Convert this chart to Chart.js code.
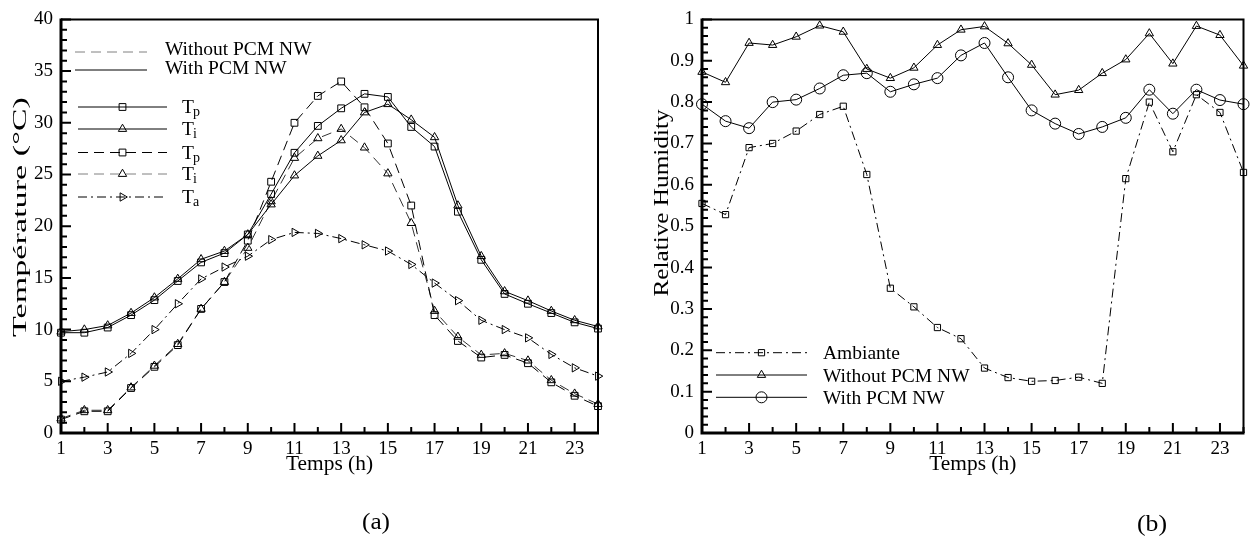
<!DOCTYPE html>
<html>
<head>
<meta charset="utf-8">
<title>Température / Relative Humidity</title>
<style>
  html, body { margin: 0; padding: 0; background: #fff; }
  #wrap { position: relative; width: 1250px; height: 538px; overflow: hidden; }
  canvas { position: absolute; top: 0; }
</style>
<script src="https://cdn.jsdelivr.net/npm/chart.js@4.4.0/dist/chart.umd.min.js"></script>
</head>
<body>
<div id="wrap">
  <canvas id="tempChart" width="620" height="538" style="left:0"></canvas>
  <canvas id="humChart" width="625" height="538" style="left:625px"></canvas>
</div>
<script>
// hours of the day (x axis)
const hours = [1, 2, 3, 4, 5, 6, 7, 8, 9, 10, 11, 12, 13, 14, 15, 16, 17, 18, 19, 20, 21, 22, 23, 24];

// (a) temperatures, °C
const withTp = [9.7, 9.7, 10.2, 11.4, 12.85, 14.7, 16.5, 17.4, 19.2, 23.1, 27.1, 29.7, 31.4, 32.8, 32.5, 29.6, 27.7, 21.4, 16.75, 13.45, 12.5, 11.6, 10.7, 10.1];
const withTi = [9.8, 10.0, 10.4, 11.6, 13.1, 14.9, 16.8, 17.6, 19.2, 22.1, 24.9, 26.8, 28.3, 31.0, 31.8, 30.3, 28.6, 22.0, 17.1, 13.7, 12.8, 11.8, 10.9, 10.3];
const noTp = [1.3, 2.1, 2.1, 4.35, 6.4, 8.5, 12.0, 14.6, 18.6, 24.3, 30.0, 32.6, 34.0, 31.5, 28.0, 22.0, 11.4, 8.9, 7.3, 7.55, 6.75, 4.9, 3.6, 2.6];
const noTi = [1.4, 2.2, 2.2, 4.4, 6.5, 8.6, 12.0, 14.6, 17.9, 22.4, 26.6, 28.5, 29.4, 27.6, 25.1, 20.3, 11.8, 9.3, 7.55, 7.7, 7.0, 5.1, 3.8, 2.8];
const ambT = [5.0, 5.4, 5.9, 7.7, 10.0, 12.5, 14.9, 16.05, 17.1, 18.7, 19.4, 19.3, 18.8, 18.2, 17.6, 16.3, 14.5, 12.8, 10.9, 10.0, 9.2, 7.6, 6.3, 5.5];

// (b) relative humidity
const rhAmbiante = [0.555, 0.528, 0.69, 0.70, 0.73, 0.77, 0.79, 0.625, 0.35, 0.305, 0.255, 0.228, 0.157, 0.134, 0.125, 0.127, 0.135, 0.12, 0.615, 0.80, 0.68, 0.818, 0.775, 0.63];
const rhWithout = [0.873, 0.848, 0.943, 0.938, 0.958, 0.985, 0.970, 0.880, 0.858, 0.883, 0.938, 0.975, 0.983, 0.942, 0.890, 0.818, 0.829, 0.870, 0.903, 0.966, 0.893, 0.984, 0.962, 0.888];
const rhWith = [0.795, 0.754, 0.737, 0.800, 0.806, 0.833, 0.865, 0.870, 0.825, 0.843, 0.858, 0.913, 0.943, 0.860, 0.780, 0.748, 0.723, 0.740, 0.762, 0.830, 0.772, 0.830, 0.805, 0.795];

const tempTicks = [0, 5, 10, 15, 20, 25, 30, 35, 40];
const humTicks = [0, 0.1, 0.2, 0.3, 0.4, 0.5, 0.6, 0.7, 0.8, 0.9, 1];

const SERIF = '"Liberation Serif", "Times New Roman", serif';
const DASH = [10, 6];
const DASH_DOT = [9, 4, 2, 4];
const GREY = '#808080';

const pts = (arr) => hours.map((h, i) => ({ x: h, y: arr[i] }));

const line = (data, opts) => Object.assign({
  data: pts(data),
  borderColor: '#000',
  borderWidth: 1,
  pointBorderColor: '#000',
  pointBorderWidth: 1,
  pointBackgroundColor: 'rgba(0,0,0,0)',
  pointRadius: 4.8,
  pointHoverRadius: 4.8,
  tension: 0,
  clip: false
}, opts);

// text stretched along its baseline to a target length
const stretchText = (ctx, text, cx, cy, size, targetW, angle) => {
  ctx.save();
  ctx.font = size + 'px ' + SERIF;
  const w = ctx.measureText(text).width;
  ctx.translate(cx, cy);
  ctx.rotate(angle);
  ctx.scale(targetW / w, 1);
  ctx.textAlign = 'center';
  ctx.textBaseline = 'alphabetic';
  ctx.fillStyle = '#000';
  ctx.fillText(text, 0, 0);
  ctx.restore();
};

const sample = (ctx, x0, x1, y, s) => {
  ctx.save();
  ctx.strokeStyle = s.color || '#000';
  ctx.lineWidth = 1;
  ctx.setLineDash(s.dash || []);
  ctx.beginPath();
  ctx.moveTo(x0, y);
  ctx.lineTo(x1, y);
  ctx.stroke();
  ctx.setLineDash([]);
  if (s.marker) {
    ctx.strokeStyle = '#000';
    ctx.fillStyle = 'rgba(0,0,0,0)';
    Chart.helpers.drawPoint(ctx, {
      pointStyle: s.marker, radius: s.radius || 4.8, rotation: s.rot || 0, borderWidth: 1
    }, (x0 + x1) / 2, y);
  }
  ctx.restore();
};

const label = (ctx, text, x, y, size) => {
  ctx.font = size + 'px ' + SERIF;
  ctx.fillStyle = '#000';
  ctx.textAlign = 'left';
  ctx.textBaseline = 'alphabetic';
  ctx.fillText(text, x, y);
  return ctx.measureText(text).width;
};

const subLabel = (ctx, main, sub, x, y) => {
  const w = label(ctx, main, x, y, 19.5);
  label(ctx, sub, x + w - 1, y + 3, 14);
};

// frame + inward major/minor ticks
const frame = {
  id: 'frame',
  beforeDatasetsDraw(chart, args, o) {
    const { ctx, chartArea: a, scales } = chart;
    ctx.save();
    ctx.strokeStyle = '#000';
    ctx.lineWidth = 2;
    ctx.beginPath();
    ctx.moveTo(a.left, a.top);
    ctx.lineTo(a.right, a.top);
    ctx.lineTo(a.right, a.bottom);
    ctx.stroke();
    ctx.lineWidth = 3;
    ctx.beginPath();
    ctx.moveTo(a.left, a.top - 1);
    ctx.lineTo(a.left, a.bottom);
    ctx.lineTo(a.right + 1, a.bottom);
    ctx.stroke();
    ctx.lineWidth = 2;
    ctx.beginPath();
    hours.forEach((h) => {
      const px = scales.x.getPixelForValue(h);
      const len = h % 2 === 1 ? 10 : 6;
      ctx.moveTo(px, a.bottom);
      ctx.lineTo(px, a.bottom - len);
    });
    for (let i = 0; i <= o.count; i++) {
      const py = scales.y.getPixelForValue(i * o.minor);
      const len = i % o.every === 0 ? 10 : 6;
      ctx.moveTo(a.left, py);
      ctx.lineTo(a.left + len, py);
    }
    ctx.stroke();
    ctx.restore();
  }
};

const tempDecor = {
  id: 'tempDecor',
  afterDraw(chart) {
    const { ctx, chartArea: a } = chart;
    ctx.save();
    sample(ctx, 75, 147, 52, { dash: DASH, color: GREY });
    label(ctx, 'Without PCM NW', 165, 55, 19.5);
    sample(ctx, 75, 147, 70, {});
    label(ctx, 'With PCM NW', 165, 74, 19.5);

    sample(ctx, 78, 167, 107, { marker: 'rect' });
    subLabel(ctx, 'T', 'p', 182, 113);
    sample(ctx, 78, 167, 129, { marker: 'triangle' });
    subLabel(ctx, 'T', 'i', 182, 135);
    sample(ctx, 78, 167, 152.5, { marker: 'rect', dash: DASH });
    subLabel(ctx, 'T', 'p', 182, 158.5);
    sample(ctx, 78, 167, 174, { marker: 'triangle', dash: DASH, color: GREY });
    subLabel(ctx, 'T', 'i', 182, 180);
    sample(ctx, 78, 167, 197, { marker: 'triangle', rot: 90, dash: DASH_DOT });
    subLabel(ctx, 'T', 'a', 182, 203);

    stretchText(ctx, 'Température (°C)', 26, 217, 18.5, 240, -Math.PI / 2);
    stretchText(ctx, 'Temps (h)', (a.left + a.right) / 2, 470, 20, 87, 0);
    stretchText(ctx, '(a)', 376, 529, 23, 28, 0);
    ctx.restore();
  }
};

const humDecor = {
  id: 'humDecor',
  afterDraw(chart) {
    const { ctx, chartArea: a } = chart;
    ctx.save();
    sample(ctx, 91, 182, 352.7, { marker: 'rect', dash: DASH_DOT, radius: 4.4 });
    label(ctx, 'Ambiante', 198, 359, 19.5);
    sample(ctx, 91, 182, 375, { marker: 'triangle' });
    label(ctx, 'Without PCM NW', 198, 381.5, 19.5);
    sample(ctx, 91, 182, 397.3, { marker: 'circle', radius: 5.5 });
    label(ctx, 'With PCM NW', 198, 404, 19.5);

    stretchText(ctx, 'Relative Humidity', 43, 203, 20.5, 187, -Math.PI / 2);
    stretchText(ctx, 'Temps (h)', (a.left + a.right) / 2, 470, 20, 87, 0);
    stretchText(ctx, '(b)', 527, 531, 23, 30, 0);
    ctx.restore();
  }
};

const xAxis = (height) => ({
  type: 'linear',
  min: 1,
  max: 24,
  afterBuildTicks: (s) => { s.ticks = hours.map((h) => ({ value: h })); },
  ticks: {
    autoSkip: false,
    maxRotation: 0,
    padding: 5,
    color: '#000',
    font: { family: SERIF, size: 19 },
    callback: (v) => (v % 2 === 1 ? String(v) : '')
  },
  grid: { display: false, drawTicks: false },
  border: { display: false },
  afterFit: (s) => { s.height = height; }
});

const yAxis = (ticks, width) => ({
  type: 'linear',
  min: ticks[0],
  max: ticks[ticks.length - 1],
  afterBuildTicks: (s) => { s.ticks = ticks.map((v) => ({ value: v })); },
  ticks: {
    autoSkip: false,
    padding: 8,
    color: '#000',
    font: { family: SERIF, size: 19 },
    callback: (v) => String(Math.round(v * 10) / 10)
  },
  grid: { display: false, drawTicks: false },
  border: { display: false },
  afterFit: (s) => { s.width = width; }
});

const common = {
  responsive: false,
  animation: false,
  devicePixelRatio: 1,
  events: []
};

new Chart(document.getElementById('tempChart'), {
  type: 'line',
  data: {
    datasets: [
      line(withTp, { pointStyle: 'rect' }),
      line(withTi, { pointStyle: 'triangle' }),
      line(noTp, { pointStyle: 'rect', borderDash: DASH }),
      line(noTi, { pointStyle: 'triangle', borderDash: DASH, borderColor: '#333' }),
      line(ambT, { pointStyle: 'triangle', pointRotation: 90, borderDash: DASH_DOT })
    ]
  },
  options: Object.assign({}, common, {
    layout: { padding: { top: 16, right: 22, left: 0, bottom: 0 } },
    scales: { x: xAxis(105), y: yAxis(tempTicks, 61) },
    plugins: {
      legend: { display: false },
      tooltip: { enabled: false },
      frame: { minor: 1, every: 5, count: 40 }
    }
  }),
  plugins: [frame, tempDecor]
});

new Chart(document.getElementById('humChart'), {
  type: 'line',
  data: {
    datasets: [
      line(rhAmbiante, { pointStyle: 'rect', pointRadius: 4.4, borderDash: DASH_DOT }),
      line(rhWithout, { pointStyle: 'triangle' }),
      line(rhWith, { pointStyle: 'circle', pointRadius: 5.5 })
    ]
  },
  options: Object.assign({}, common, {
    layout: { padding: { top: 16, right: 2, left: 0, bottom: 0 } },
    scales: { x: xAxis(105), y: yAxis(humTicks, 77) },
    plugins: {
      legend: { display: false },
      tooltip: { enabled: false },
      frame: { minor: 0.02, every: 5, count: 50 }
    }
  }),
  plugins: [frame, humDecor]
});
</script>
</body>
</html>
